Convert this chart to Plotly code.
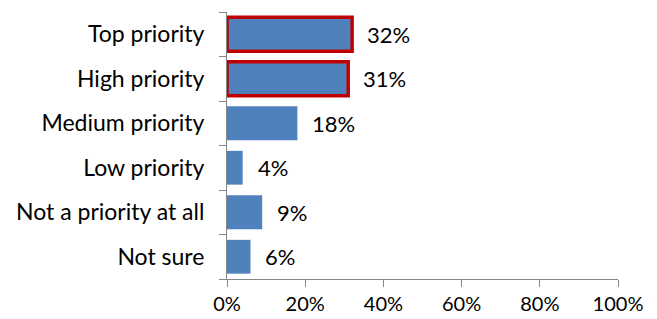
import plotly.graph_objects as go

categories = ["Top priority", "High priority", "Medium priority", "Low priority",
              "Not a priority at all", "Not sure"]
values = [32, 31, 18, 4, 9, 6]
highlight = [True, True, False, False, False, False]
x_ticks = [0, 20, 40, 60, 80, 100]
x_tick_labels = ["0%", "20%", "40%", "60%", "80%", "100%"]

line_colors = ["#C00000" if h else "#4F81BD" for h in highlight]
line_widths = [3.5 if h else 0 for h in highlight]

fig = go.Figure()
fig.add_trace(go.Bar(
    y=categories, x=values, orientation="h",
    marker=dict(color="#4F81BD", line=dict(color=line_colors, width=line_widths)),
    width=0.76, hoverinfo="skip",
))

for c, v in zip(categories, values):
    fig.add_annotation(x=v, y=c, text=f"{v}%", showarrow=False,
                       xanchor="left", xshift=13, font=dict(size=22, color="#000000", family="Lato"))

axis_color = "#868686"
# page body has an 8px default margin, so the figure is sized to fit the window
fig.update_layout(
    width=649, height=311,
    margin=dict(l=219, r=39, t=4, b=40),
    paper_bgcolor="white", plot_bgcolor="white",
    showlegend=False,
    font=dict(family="Lato", size=23, color="#000000"),
    xaxis=dict(range=[0, 100], tickvals=x_ticks, ticktext=x_tick_labels,
               showgrid=False, zeroline=False, showline=True, linecolor=axis_color, linewidth=1,
               ticks="outside", ticklen=7, tickcolor=axis_color, fixedrange=True,
               tickfont=dict(size=20), automargin=False),
    yaxis=dict(categoryorder="array", categoryarray=categories[::-1],
               showgrid=False, zeroline=False, showline=True, linecolor=axis_color, linewidth=1,
               ticks="outside", ticklen=7, tickcolor=axis_color, tickson="boundaries",
               ticklabelstandoff=17, fixedrange=True, automargin=False),
)

fig.write_html("out.html")
